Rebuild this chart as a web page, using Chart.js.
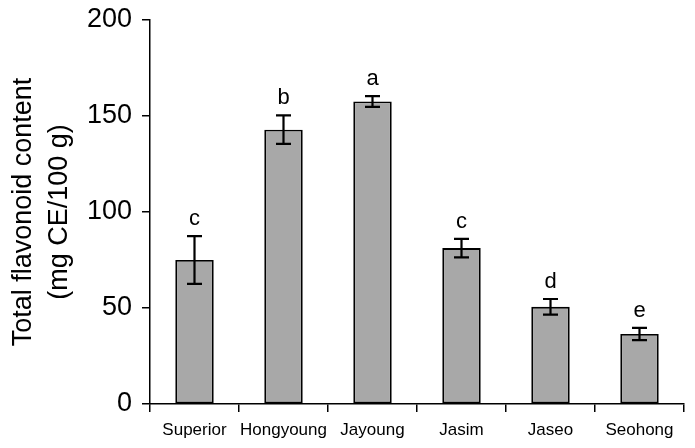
<!DOCTYPE html>
<html>
<head>
<meta charset="utf-8">
<script src="https://cdn.jsdelivr.net/npm/chart.js@4"></script>
<style>
  html, body { margin: 0; padding: 0; background: #fff; }
  #wrap { width: 695px; height: 448px; }
</style>
</head>
<body>
<div id="wrap"><canvas id="tfcChart" width="695" height="448"></canvas></div>
<script>
const cultivars = ['Superior', 'Hongyoung', 'Jayoung', 'Jasim', 'Jaseo', 'Seohong'];
const flavonoid = [75, 142.9, 157.6, 81.2, 50.6, 36.5];
const errors = [12.4, 7.4, 2.8, 4.8, 4.1, 3.2];
const letters = ['c', 'b', 'a', 'c', 'd', 'e'];
const yTicks = [0, 50, 100, 150, 200];

const FONT = "'Liberation Sans', Arial, sans-serif";

// error bars + significance letters
const errorBarPlugin = {
    id: 'errorBars',
    afterDatasetsDraw(chart) {
        const ctx = chart.ctx;
        const meta = chart.getDatasetMeta(0);
        const yScale = chart.scales.y;
        ctx.save();
        ctx.strokeStyle = '#000';
        ctx.lineWidth = 2.2;
        meta.data.forEach((bar, i) => {
            const x = bar.x;
            const top = yScale.getPixelForValue(flavonoid[i] + errors[i]);
            const bottom = yScale.getPixelForValue(flavonoid[i] - errors[i]);
            const cap = 7.5;
            ctx.beginPath();
            ctx.moveTo(x, top);
            ctx.lineTo(x, bottom);
            ctx.moveTo(x - cap, top);
            ctx.lineTo(x + cap, top);
            ctx.moveTo(x - cap, bottom);
            ctx.lineTo(x + cap, bottom);
            ctx.stroke();

            ctx.fillStyle = '#000';
            ctx.font = '22px ' + FONT;
            ctx.textAlign = 'center';
            ctx.textBaseline = 'bottom';
            ctx.fillText(letters[i], x, top - 6);
        });
        ctx.restore();
    }
};

new Chart(document.getElementById('tfcChart'), {
    type: 'bar',
    data: {
        labels: cultivars,
        datasets: [{
            data: flavonoid,
            backgroundColor: '#a8a8a8',
            borderColor: '#000',
            borderWidth: 1.8,
            borderSkipped: false,
            barPercentage: 0.6,
            categoryPercentage: 0.72
        }]
    },
    options: {
        responsive: false,
        animation: false,
        devicePixelRatio: 1,
        layout: { padding: { top: 20, right: 11, left: 0, bottom: 0 } },
        plugins: {
            legend: { display: false },
            tooltip: { enabled: false }
        },
        scales: {
            x: {
                grid: {
                    offset: true,
                    drawOnChartArea: false,
                    drawTicks: true,
                    tickLength: 8,
                    color: '#000',
                    lineWidth: 1.5
                },
                border: { color: '#000', width: 1.5 },
                ticks: {
                    color: '#000',
                    font: { family: FONT, size: 17 },
                    padding: 8,
                    autoSkip: false,
                    maxRotation: 0
                },
                afterFit(scale) {
                    scale.height = 44;
                    scale.paddingLeft = 0;
                    scale.paddingRight = 0;
                }
            },
            y: {
                min: 0,
                max: 200,
                afterBuildTicks(scale) {
                    scale.ticks = yTicks.map(v => ({ value: v }));
                },
                grid: {
                    drawOnChartArea: false,
                    drawTicks: true,
                    tickLength: 8,
                    color: '#000',
                    lineWidth: 1.5
                },
                border: { color: '#000', width: 1.5 },
                ticks: {
                    color: '#000',
                    font: { family: FONT, size: 27 },
                    padding: 10
                },
                title: {
                    display: true,
                    text: ['Total flavonoid content', '(mg CE/100 g)'],
                    color: '#000',
                    font: { family: FONT, size: 27, lineHeight: 1.35 },
                    padding: { top: 5, bottom: 4 }
                },
                afterFit(scale) {
                    scale.width = 150;
                    scale.paddingTop = 0;
                    scale.paddingBottom = 0;
                }
            }
        }
    },
    plugins: [errorBarPlugin]
});
</script>
</body>
</html>
